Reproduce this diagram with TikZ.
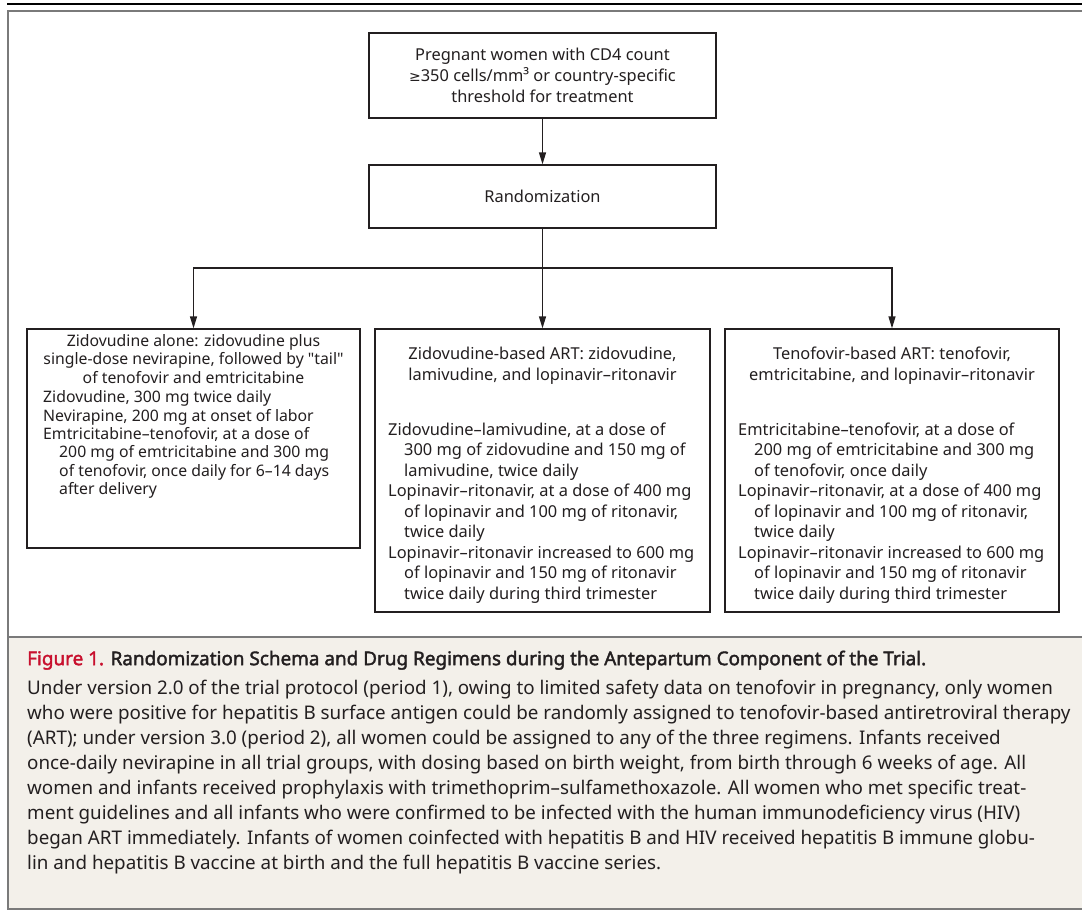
\documentclass[tikz,border=0pt]{standalone}
\usepackage{fontspec}
\setmainfont{Noto Sans}
\newfontfamily\symfont{DejaVu Sans}
\newfontfamily\titlefont{Noto Sans}[FakeBold=2]
\font\straightq="Noto Sans" at 15.8pt
\usetikzlibrary{arrows.meta}
\definecolor{ink}{HTML}{231F20}
\definecolor{framegrey}{HTML}{7A7A7A}
\definecolor{capbg}{HTML}{F3F0EA}
\definecolor{figred}{HTML}{C8102E}
\newcommand{\ind}{\hspace*{16pt}}
\begin{document}
\begin{tikzpicture}[x=1pt,y=-1pt,
  box/.style={draw=ink, line width=1.3pt, inner sep=0pt, fill=white},
  txt/.style={inner sep=0pt, text=ink, font=\fontsize{16.4}{20.5}\selectfont},
  smalltxt/.style={inner sep=0pt, text=ink, font=\fontsize{15.8}{18.4}\selectfont},
  captxt/.style={inner sep=0pt, text=ink, font=\fontsize{18.8}{25}\selectfont},
  arr/.style={draw=ink, line width=1.3pt, -{Triangle[width=7pt,length=12pt]}},
  link/.style={draw=ink, line width=1.3pt}]
\useasboundingbox (0,0) rectangle (1082,913);
% caption background and frame
\fill[capbg] (7.5,637) rectangle (1095,909);
\draw[framegrey, line width=2pt] (1095,10.5) -- (7.5,10.5) -- (7.5,909) -- (1095,909);
\draw[framegrey, line width=2pt] (7.5,637) -- (1095,637);
\draw[black, line width=1.5pt] (7,4) -- (1095,4);
% top boxes
\node[box, txt, minimum width=347pt, minimum height=85pt, align=center,
      font=\fontsize{16.4}{21}\selectfont] (elig) at (542.5,75.5)
  {Pregnant women with CD4 count\\ {\symfont\fontsize{14}{21}\selectfont ≥}350 cells/mm³ or country-specific\\ threshold for treatment};
\node[box, txt, minimum width=347pt, minimum height=63pt] (rand) at (542.5,196.5) {Randomization};
% arm boxes
\node[box, minimum width=333pt, minimum height=219pt] (armA) at (193.5,438.5) {};
\node[box, minimum width=335pt, minimum height=283pt] (armB) at (542.5,470.5) {};
\node[box, minimum width=334pt, minimum height=283pt] (armC) at (892,470.5) {};
% arm texts
\node[smalltxt, align=center, anchor=north] (armAhead) at (193.5,334)
  {Zidovudine alone: zidovudine plus\\ single-dose nevirapine, followed by {\straightq"}tail{\straightq"}\\ of tenofovir and emtricitabine};
\node[smalltxt, align=left, anchor=north west] (armAitems) at (43,390.5)
  {Zidovudine, 300 mg twice daily\\ Nevirapine, 200 mg at onset of labor\\ Emtricitabine–tenofovir, at a dose of\\ \ind 200 mg of emtricitabine and 300 mg\\ \ind of tenofovir, once daily for 6–14 days\\ \ind after delivery};
\node[txt, align=center, anchor=north] (armBhead) at (542.5,347)
  {Zidovudine-based ART: zidovudine,\\ lamivudine, and lopinavir–ritonavir};
\node[txt, align=left, anchor=north west] (armBitems) at (388,422.5)
  {Zidovudine–lamivudine, at a dose of\\ \ind 300 mg of zidovudine and 150 mg of\\ \ind lamivudine, twice daily\\ Lopinavir–ritonavir, at a dose of 400 mg\\ \ind of lopinavir and 100 mg of ritonavir,\\ \ind twice daily\\ Lopinavir–ritonavir increased to 600 mg\\ \ind of lopinavir and 150 mg of ritonavir\\ \ind twice daily during third trimester};
\node[txt, align=center, anchor=north] (armChead) at (892,347)
  {Tenofovir-based ART: tenofovir,\\ emtricitabine, and lopinavir–ritonavir};
\node[txt, align=left, anchor=north west] (armCitems) at (738,422.5)
  {Emtricitabine–tenofovir, at a dose of\\ \ind 200 mg of emtricitabine and 300 mg\\ \ind of tenofovir, once daily\\ Lopinavir–ritonavir, at a dose of 400 mg\\ \ind of lopinavir and 100 mg of ritonavir,\\ \ind twice daily\\ Lopinavir–ritonavir increased to 600 mg\\ \ind of lopinavir and 150 mg of ritonavir\\ \ind twice daily during third trimester};
% connectors
\coordinate (split) at (542.5,268);
\draw[arr] (elig.south) -- (rand.north);
\draw[link] (rand.south) -- (split);
\draw[arr] (split) -- (armB.north);
\draw[arr] (split) -| (armA.north);
\draw[arr] (split) -| (armC.north);
% caption
\node[captxt, anchor=north west, font=\titlefont\fontsize{18.9}{25}\selectfont] (captitle) at (27,650.5)
  {\textcolor{figred}{Figure 1.} Randomization Schema and Drug Regimens during the Antepartum Component of the Trial.};
\node[captxt, anchor=north west, align=left] (capbody) at (27,680)
  {Under version 2.0 of the trial protocol (period 1), owing to limited safety data on tenofovir in pregnancy, only women\\
   who were positive for hepatitis B surface antigen could be randomly assigned to tenofovir-based antiretroviral therapy\\
   (ART); under version 3.0 (period 2), all women could be assigned to any of the three regimens. Infants received\\
   once-daily nevirapine in all trial groups, with dosing based on birth weight, from birth through 6 weeks of age. All\\
   women and infants received prophylaxis with trimethoprim–sulfamethoxazole. All women who met specific treat-\\
   ment guidelines and all infants who were confirmed to be infected with the human immunodeficiency virus (HIV)\\
   began ART immediately. Infants of women coinfected with hepatitis B and HIV received hepatitis B immune globu-\\
   lin and hepatitis B vaccine at birth and the full hepatitis B vaccine series.};
\end{tikzpicture}
\end{document}
